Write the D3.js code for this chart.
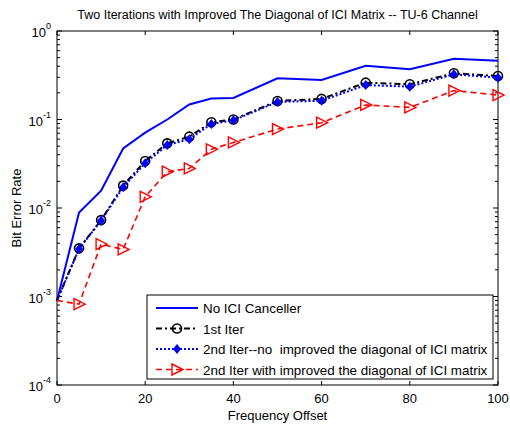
<!DOCTYPE html>
<html>
<head>
<meta charset="utf-8">
<script src="https://cdn.jsdelivr.net/npm/d3@7"></script>
<style>
  body { margin: 0; background: #fff; }
  text { font-family: "Liberation Sans", Arial, sans-serif; fill: #000; white-space: pre; }
</style>
</head>
<body>
<div id="chart"></div>
<script>
// frequency offsets and BER values
var offsets = [0, 5, 10, 15, 20, 25, 30, 35, 40, 50, 60, 70, 80, 90, 100];
var noCanceller = [9e-4, 8.9e-3, 0.0157, 0.047, 0.071, 0.1, 0.148, 0.173, 0.175, 0.292, 0.28, 0.405, 0.369, 0.486, 0.462];
var firstIter = [9e-4, 3.5e-3, 7.3e-3, 0.0179, 0.034, 0.0538, 0.064, 0.093, 0.1, 0.162, 0.171, 0.261, 0.25, 0.333, 0.31];
var secondNoImp = [9e-4, 3.45e-3, 7.2e-3, 0.0172, 0.032, 0.0515, 0.06, 0.089, 0.098, 0.158, 0.163, 0.245, 0.235, 0.324, 0.297];
var secondImp = [9e-4, 8.2e-4, 3.9e-3, 3.4e-3, 0.0134, 0.0257, 0.028, 0.046, 0.055, 0.078, 0.092, 0.146, 0.137, 0.212, 0.189];
var seriesNames = ["No ICI Canceller", "1st Iter",
  "2nd Iter--no  improved the diagonal of ICI matrix",
  "2nd Iter with improved the diagonal of ICI matrix"];
var xTicks = [0, 20, 40, 60, 80, 100];
var yExponents = [0, -1, -2, -3, -4];

var W = 510, H = 427;
var margin = {top: 31, right: 12, bottom: 42, left: 57};
var width = W - margin.left - margin.right,
    height = H - margin.top - margin.bottom;

var xScale = d3.scaleLinear().domain([0, 100]).range([0, width]);
var yScale = d3.scaleLog().domain([1e-4, 1]).range([height, 0]);

var svg = d3.select("#chart").append("svg")
    .attr("width", W).attr("height", H);

svg.append("text")
    .attr("x", margin.left + width / 2).attr("y", 19)
    .attr("text-anchor", "middle").style("font-size", "12.5px")
    .text("Two Iterations with Improved The Diagonal of ICI Matrix -- TU-6 Channel");

var g = svg.append("g")
    .attr("transform", "translate(" + margin.left + "," + margin.top + ")");

// ticks inside the box, top/bottom and left/right
xTicks.forEach(function(t) {
  g.append("line").attr("x1", xScale(t)).attr("x2", xScale(t))
    .attr("y1", height).attr("y2", height - 4).attr("stroke", "#000");
  g.append("line").attr("x1", xScale(t)).attr("x2", xScale(t))
    .attr("y1", 0).attr("y2", 4).attr("stroke", "#000");
  g.append("text").attr("x", xScale(t)).attr("y", height + 18)
    .attr("text-anchor", "middle").style("font-size", "13px").text(t);
});

yExponents.forEach(function(e, i) {
  var y = yScale(Math.pow(10, e));
  [0, width].forEach(function(x0) {
    var dir = x0 === 0 ? 1 : -1;
    g.append("line").attr("x1", x0).attr("x2", x0 + dir * 5)
      .attr("y1", y).attr("y2", y).attr("stroke", "#000");
  });
  var lbl = g.append("text").attr("x", -6).attr("y", y + 6)
    .attr("text-anchor", "end").style("font-size", "13px");
  lbl.append("tspan").text("10");
  lbl.append("tspan").attr("dy", -8).style("font-size", "9px").text(e);
  if (e > -4) {
    for (var k = 2; k <= 9; k++) {
      var ym = yScale(k * Math.pow(10, e - 1));
      [0, width].forEach(function(x0) {
        var dir = x0 === 0 ? 1 : -1;
        g.append("line").attr("x1", x0).attr("x2", x0 + dir * 3)
          .attr("y1", ym).attr("y2", ym).attr("stroke", "#000");
      });
    }
  }
});

g.append("rect").attr("width", width).attr("height", height)
  .attr("fill", "none").attr("stroke", "#000").attr("stroke-width", 1);

svg.append("text")
  .attr("transform", "translate(21," + (margin.top + height / 2) + ") rotate(-90)")
  .attr("text-anchor", "middle").style("font-size", "13px").text("Bit Error Rate");
svg.append("text")
  .attr("x", margin.left + width / 2).attr("y", H - 7)
  .attr("text-anchor", "middle").style("font-size", "13px").text("Frequency Offset");

var styles = [
  {values: noCanceller, color: "#0000ff", dash: null, width: 2, marker: null},
  {values: firstIter, color: "#000", dash: "6,3,2,3", width: 2, marker: "circle"},
  {values: secondNoImp, color: "#0000ff", dash: "2,2", width: 2, marker: "diamond"},
  {values: secondImp, color: "#ff0000", dash: "6,4", width: 1.6, marker: "triangle"}
];

var line = d3.line()
  .x(function(d) { return xScale(d[0]); })
  .y(function(d) { return yScale(d[1]); });

function drawMarker(sel, kind, color, x, y) {
  if (kind === "circle") {
    sel.append("circle").attr("cx", x).attr("cy", y).attr("r", 4.5)
      .attr("fill", "none").attr("stroke", color).attr("stroke-width", 1.6);
  } else if (kind === "diamond") {
    sel.append("path").attr("d", "M0,-5L4,0L0,5L-4,0Z")
      .attr("transform", "translate(" + x + "," + y + ")").attr("fill", color);
  } else if (kind === "triangle") {
    sel.append("path").attr("d", "M-5,-5.5L6,0L-5,5.5Z")
      .attr("transform", "translate(" + x + "," + y + ")")
      .attr("fill", "none").attr("stroke", color).attr("stroke-width", 1.4);
  }
}

styles.forEach(function(s) {
  var pts = offsets.map(function(o, i) { return [o, s.values[i]]; });
  g.append("path").datum(pts).attr("d", line)
    .attr("fill", "none").attr("stroke", s.color)
    .attr("stroke-width", s.width)
    .attr("stroke-dasharray", s.dash);
  if (s.marker) {
    pts.filter(function(p) { return p[0] > 0; }).forEach(function(p) {
      drawMarker(g, s.marker, s.color, xScale(p[0]), yScale(p[1]));
    });
  }
});

// legend
var lg = svg.append("g").attr("transform", "translate(147,295)");
lg.append("rect").attr("width", 346).attr("height", 84)
  .attr("fill", "#fff").attr("stroke", "#000");
styles.forEach(function(s, i) {
  var y = 13 + i * 20.5;
  lg.append("line").attr("x1", 9).attr("x2", 51).attr("y1", y).attr("y2", y)
    .attr("stroke", s.color).attr("stroke-width", s.width)
    .attr("stroke-dasharray", s.dash);
  drawMarker(lg, s.marker, s.color, 30, y);
  lg.append("text").attr("x", 56).attr("y", y + 5)
    .style("font-size", "13.4px").text(seriesNames[i]);
});
</script>
</body>
</html>
